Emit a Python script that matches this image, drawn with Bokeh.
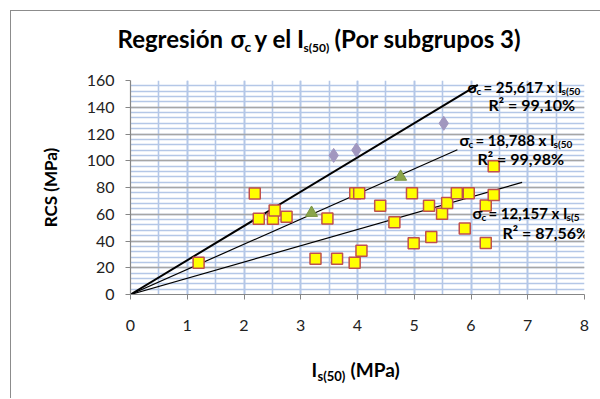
import math
from bokeh.plotting import figure
from bokeh.layouts import column, row
from bokeh.models import Label, SingleIntervalTicker, Range1d, Spacer
from bokeh.core.properties import value
from bokeh.embed import file_html
from bokeh.resources import INLINE

# ---- data ----
sq_x = [1.20, 2.19, 2.26, 2.51, 2.54, 2.75, 3.26, 3.47, 3.64, 3.95, 3.96, 4.03, 4.07, 4.40,
        4.65, 4.96, 4.99, 5.26, 5.30, 5.49, 5.58, 5.75, 5.89, 5.96, 6.26, 6.26, 6.40, 6.40]
sq_y = [23.7, 75.5, 56.6, 56.6, 62.8, 58.1, 26.7, 56.8, 26.7, 23.7, 75.7, 75.7, 32.8, 66.4,
        54.1, 75.7, 38.4, 66.4, 42.9, 60.3, 68.5, 75.7, 49.3, 75.7, 66.5, 38.5, 74.3, 95.9]
dia_x = [3.58, 3.98, 5.52]
dia_y = [104, 108, 128]
tri_x = [3.19, 4.76]
tri_y = [61, 88]

trend_slope = [25.617, 18.788, 12.157]
trend_xend = [6.12, 5.76, 6.90]
trend_width = [2.0, 1.2, 1.2]
trend_eq = ["25,617", "18,788", "12,157"]
trend_r2 = ["99,10%", "99,98%", "87,56%"]
trend_sub = ["s(50", "s(50", "s(5"]

FONT = "Lato"
W = 589
TOP_H = 55
MAIN_H = 279
BOT_H = 53
ORIGIN_X = 11            # page x of the canvases
MAIN_TOP = 11 + TOP_H    # page y of the main canvas
FRAME_LEFT = 130
FRAME_RIGHT = 584
FRAME_TOP = 80
FRAME_BOTTOM = 294
EDGE = "#8c8c8c"


def text_fig(h):
    f = figure(width=W, height=h, x_range=Range1d(0, W), y_range=Range1d(h, 0),
               x_axis_type=None, y_axis_type=None, min_border=0, frame_align=False,
               title=None, output_backend="svg", toolbar_location=None)
    f.outline_line_color = None
    f.grid.visible = False
    f.background_fill_color = "white"
    f.border_fill_color = "white"
    return f


def put(f, page_y0, pieces):
    # glyph text is anchored a little below the requested baseline; compensate
    for txt, X, Y, size in pieces:
        f.text(x=[X - ORIGIN_X], y=[Y - page_y0 - 0.33 * size], text=[txt],
               text_font=value(FONT), text_font_size=f"{size}px", text_font_style="bold",
               text_color="black", text_align="left", text_baseline="alphabetic")


# ---- title ----
t = text_fig(TOP_H)
put(t, 11, [("Regresión", 117, 46, 24), ("σ", 230, 46, 24), ("c", 244, 51, 14),
            ("y el I", 254, 46, 24), ("s(50)", 303, 51, 12), ("(Por subgrupos 3)", 334, 46, 24)])

# ---- main chart ----
p = figure(width=W, height=MAIN_H, x_range=Range1d(0, 8), y_range=Range1d(0, 160),
           output_backend="svg", toolbar_location=None, frame_align=False, title=None,
           min_border_left=FRAME_LEFT - ORIGIN_X,
           min_border_right=W - (FRAME_RIGHT - ORIGIN_X),
           min_border_top=FRAME_TOP - MAIN_TOP,
           min_border_bottom=(MAIN_TOP + MAIN_H) - FRAME_BOTTOM)
p.outline_line_color = None
p.background_fill_color = "white"
p.border_fill_color = "white"

xt = SingleIntervalTicker(interval=1, num_minor_ticks=2)
yt = SingleIntervalTicker(interval=20, num_minor_ticks=5)
p.xaxis.ticker = xt
p.yaxis.ticker = yt
p.xgrid.ticker = xt
p.ygrid.ticker = yt

blue = "#b4c7e7"
p.xgrid.grid_line_color = blue
p.xgrid.grid_line_width = 1.6
p.xgrid.minor_grid_line_color = blue
p.xgrid.minor_grid_line_width = 1.6
p.ygrid.grid_line_color = "#a6a6a6"
p.ygrid.grid_line_width = 1.5
p.ygrid.minor_grid_line_color = blue
p.ygrid.minor_grid_line_width = 1.6

for ax in (p.xaxis, p.yaxis):
    ax.axis_line_color = "#868686"
    ax.axis_line_width = 1.2
    ax.major_tick_line_color = "#868686"
    ax.major_tick_in = 0
    ax.major_tick_out = 5
    ax.minor_tick_line_color = None
    ax.major_label_text_font = FONT
    ax.major_label_text_font_size = "16px"
    ax.major_label_text_color = "#222222"
p.xaxis.major_label_standoff = 20
p.yaxis.major_label_standoff = 11
p.yaxis.axis_label = "RCS (MPa)"
p.yaxis.axis_label_text_font = FONT
p.yaxis.axis_label_text_font_size = "17px"
p.yaxis.axis_label_text_font_style = "bold"
p.yaxis.axis_label_text_color = "black"
p.yaxis.axis_label_standoff = 23

# trend lines
for s, xe, w in zip(trend_slope, trend_xend, trend_width):
    p.line([0, xe], [0, s * xe], line_color="black", line_width=w)

# scatter series
p.scatter(dia_x, dia_y, marker="diamond", size=14, fill_color="#a197bf", line_color="#a197bf")
p.scatter(tri_x, tri_y, marker="triangle", size=12, fill_color="#8aa54a", line_color="#7a9540")
p.scatter(sq_x, sq_y, marker="square", size=11, fill_color="#ffff00", line_color="#c0504d",
          line_width=1.5)


def lab(text, X, Y, size):
    p.add_layout(Label(x=X - FRAME_LEFT, y=FRAME_BOTTOM - Y, x_units="screen", y_units="screen",
                       text=text, text_font=FONT, text_font_size=f"{size}px",
                       text_font_style="bold", text_color="black",
                       text_align="left", text_baseline="alphabetic"))


# equation labels: (sigma x, sigma baseline, R2 x, R2 baseline)
eq_pos = [(467, 86, 488, 104), (459, 139, 477, 158), (472, 212, 502, 232)]
for (xs, yb, xr, yr), eq, r2, sub in zip(eq_pos, trend_eq, trend_r2, trend_sub):
    lab("σ", xs, yb, 16)
    lab("c", xs + 9, yb + 4, 10)
    lab("= " + eq + " x I", xs + 16, yb, 15)
    lab(sub, xs + 94, yb + 4, 10)
    lab("R² = " + r2, xr, yr, 16)

# ---- x axis title ----
b = text_fig(BOT_H)
put(b, MAIN_TOP + MAIN_H, [("I", 311, 375, 19), ("s(50)", 317, 380, 13), ("(MPa)", 350, 375, 19)])

# chart-area edge (left and top), as in the reference
top_line = Spacer(width=W + 1, height=1, styles={"background-color": EDGE})
left_line = Spacer(width=1, height=TOP_H + MAIN_H + BOT_H, styles={"background-color": EDGE})

layout = column(top_line, row(left_line, column(t, p, b, spacing=0), spacing=0), spacing=0,
                styles={"margin-left": "10px", "margin-top": "10px"})

open("out.html", "w").write(file_html(layout, INLINE))
